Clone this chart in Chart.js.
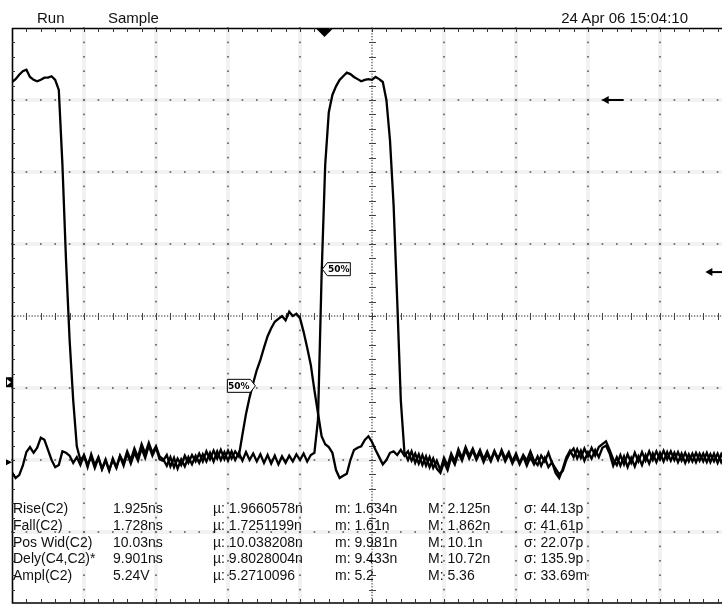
<!DOCTYPE html>
<html>
<head>
<meta charset="utf-8">
<script src="https://cdn.jsdelivr.net/npm/chart.js@4.4.1/dist/chart.umd.min.js"></script>
<style>
  html, body { margin: 0; padding: 0; background: #fff; overflow: hidden; }
  #wrap { position: relative; width: 722px; height: 604px; overflow: hidden; }
  #scope { position: absolute; left: 0; top: 0; }
  .txt { position: absolute; font-family: "Liberation Sans", Arial, sans-serif; color: #111; white-space: pre; line-height: 15px; }
  .hdr { font-size: 15px; top: 10px; }
  .meas { font-size: 14px; }
</style>
</head>
<body>
<div id="wrap">
  <canvas id="scope" width="740" height="604"></canvas>
</div>
<script>
"use strict";

// scope sample interval, ns (10 ns/div, 1 V/div)
const sampleStepNs = 0.5;

// C2: the tall pulse (starts high, second pulse around 43 ns)
const c2Volts = [
  3.25, 3.29, 3.35, 3.40, 3.42, 3.32, 3.28, 3.26, 3.28, 3.31,
  3.31, 3.33, 3.28, 3.14, 2.11, 0.78, -0.33, -1.17, -1.81, -2.00,
  -1.94, -2.10, -1.92, -2.07, -1.96, -2.12, -1.99, -2.14, -2.00, -2.11,
  -1.95, -2.08, -1.91, -2.05, -1.90, -2.01, -1.84, -1.97, -1.80, -1.94,
  -1.83, -1.99, -2.01, -1.93, -2.09, -1.97, -2.12, -1.99, -2.09, -1.96,
  -2.06, -1.94, -2.04, -1.92, -2.02, -1.90, -2.02, -1.88, -2.00, -1.89,
  -2.01, -1.88, -2.00, -1.90, -2.01, -1.89, -2.00, -1.91, -2.02, -1.92,
  -2.04, -1.93, -2.05, -1.94, -2.06, -1.95, -2.04, -1.94, -2.02, -1.92,
  -2.00, -1.91, -2.02, -1.93, -1.90, -1.44, 0.57, 2.10, 2.83, 3.07,
  3.19, 3.28, 3.33, 3.38, 3.36, 3.32, 3.29, 3.26, 3.28, 3.29,
  3.28, 3.32, 3.29, 3.25, 3.00, 2.44, 1.54, 0.22, -1.17, -1.89,
  -2.00, -1.88, -2.04, -1.92, -2.07, -1.95, -2.10, -1.98, -2.12, -2.18,
  -2.03, -2.14, -1.96, -2.06, -1.90, -2.01, -1.86, -1.98, -1.87, -2.00,
  -1.90, -2.03, -1.92, -2.02, -1.89, -2.00, -1.86, -1.98, -1.89, -2.02,
  -1.91, -2.04, -1.93, -2.01, -1.88, -2.01, -2.07, -1.94, -2.02, -1.90,
  -2.04, -2.12, -2.20, -2.15, -2.00, -1.90, -1.84, -1.98, -1.87, -2.01,
  -1.89, -1.98, -1.86, -1.96, -1.83, -1.80, -1.91, -2.08, -1.96, -2.08,
  -1.95, -2.10, -1.97, -2.09, -1.95, -2.07, -1.93, -2.05, -1.91, -2.03,
  -1.90, -2.02, -1.89, -2.01, -1.90, -2.03, -1.91, -2.04, -1.92, -2.02,
  -1.90, -2.01, -1.91, -2.03, -1.92, -2.02, -1.91, -2.03, -1.93, -2.02,
  -1.94,
];

// C4: the smaller pulse around 33 ns
const c4Volts = [
  -2.17, -2.25, -2.21, -2.08, -1.89, -1.82, -1.90, -1.83, -1.69, -1.72,
  -1.86, -2.00, -2.10, -2.07, -1.88, -1.90, -1.94, -2.04, -1.96, -2.07,
  -1.93, -2.06, -1.96, -2.11, -1.97, -2.13, -2.01, -2.15, -1.98, -2.10,
  -1.94, -2.04, -1.88, -2.00, -1.84, -1.96, -1.78, -1.91, -1.76, -1.90,
  -1.81, -1.95, -1.99, -2.08, -1.96, -2.10, -1.98, -2.07, -1.94, -2.04,
  -1.93, -2.02, -1.91, -2.02, -1.88, -1.99, -1.87, -1.98, -1.86, -1.99,
  -1.87, -1.98, -1.88, -1.95, -1.65, -1.36, -1.13, -0.93, -0.75, -0.61,
  -0.44, -0.28, -0.17, -0.08, -0.04, 0.00, -0.06, 0.06, 0.00, 0.03,
  -0.03, -0.22, -0.44, -0.68, -1.03, -1.35, -1.67, -1.78, -1.82, -1.90,
  -2.14, -2.25, -2.22, -2.19, -2.00, -1.86, -1.83, -1.81, -1.72, -1.67,
  -1.75, -1.86, -1.96, -2.06, -2.00, -1.90, -1.88, -1.93, -1.86, -1.94,
  -1.88, -2.01, -1.91, -2.05, -1.93, -2.08, -1.96, -2.11, -2.01, -2.14,
  -1.97, -2.08, -1.91, -2.02, -1.85, -1.97, -1.82, -1.94, -1.84, -1.97,
  -1.86, -1.99, -1.88, -2.00, -1.87, -1.98, -1.89, -2.02, -1.92, -2.05,
  -1.94, -2.06, -1.95, -2.08, -1.96, -2.06, -1.95, -2.08, -1.97, -2.10,
  -2.03, -2.18, -2.25, -2.12, -1.96, -1.87, -1.96, -1.85, -1.97, -1.84,
  -1.95, -1.83, -1.94, -1.82, -1.78, -1.74, -1.86, -1.99, -2.07, -1.93,
  -2.06, -1.92, -2.04, -1.90, -2.02, -1.89, -2.01, -1.88, -2.00, -1.88,
  -1.99, -1.87, -1.99, -1.88, -2.00, -1.89, -2.01, -1.90, -2.02, -1.91,
  -2.03, -1.91, -2.02, -1.90, -2.03, -1.91, -2.04, -1.92, -2.03, -1.93,
  -2.00,
];

// markers on screen (ns, V)
const triggerNs = 43.4;
const flagNs = [43.1, 33.8];
const flagVolts = [0.65, -0.97];
const flagPointsLeft = [true, false];
const arrowNs = [81.9, 96.3];
const arrowVolts = [3.0, 0.61];
const groundVolts = [-0.92, -2.03];

// header and measurement readout
const headerLabels = ["Run", "Sample", "24 Apr 06 15:04:10"];
const measNames = ["Rise(C2)", "Fall(C2)", "Pos Wid(C2)", "Dely(C4,C2)*", "Ampl(C2)"];
const measValues = ["1.925ns", "1.728ns", "10.03ns", "9.901ns", "5.24V"];
const measMean = ["µ: 1.9660578n", "µ: 1.7251199n", "µ: 10.038208n", "µ: 9.8028004n", "µ: 5.2710096"];
const measMin = ["m: 1.634n", "m: 1.61n", "m: 9.981n", "m: 9.433n", "m: 5.2"];
const measMax = ["M: 2.125n", "M: 1.862n", "M: 10.1n", "M: 10.72n", "M: 5.36"];
const measSigma = ["σ: 44.13p", "σ: 41.61p", "σ: 22.07p", "σ: 135.9p", "σ: 33.69m"];

const main = () => {
  const wrap = document.getElementById("wrap");
  const canvas = document.getElementById("scope");
  if (!(canvas instanceof HTMLCanvasElement)) throw new Error();

  /** @type {(cls: string, text: string, css: string) => void} */
  const addText = (cls, text, css) => {
    const el = document.createElement("div");
    el.className = "txt " + cls;
    el.textContent = text;
    el.style.cssText = css;
    wrap.appendChild(el);
  };

  addText("hdr", headerLabels[0], "left:37px;");
  addText("hdr", headerLabels[1], "left:108px;");
  addText("hdr", headerLabels[2], "right:34px;");

  const columns = [measNames, measValues, measMean, measMin, measMax, measSigma];
  const columnLeft = [13, 113, 213, 335, 428, 524];
  measNames.forEach((_, row) => {
    columns.forEach((col, c) => {
      const top = 501 + row * 16.8;
      addText("meas", col[row], `left:${columnLeft[c]}px;top:${top}px;`);
    });
  });

  const dot = (ctx, x, y, s) => ctx.fillRect(x - s / 2, y - s / 2, s, s);

  const scopeGrid = {
    id: "scopeGrid",
    beforeDatasetsDraw(chart) {
      const { ctx, chartArea: a, scales } = chart;
      const px = (t) => scales.x.getPixelForValue(t);
      const py = (v) => scales.y.getPixelForValue(v);
      ctx.save();

      // faint halo along the graticule
      ctx.strokeStyle = "rgba(0,0,0,0.05)";
      ctx.lineWidth = 4;
      for (let k = 1; k < 10; k++) {
        if (k === 5) continue;
        ctx.beginPath();
        ctx.moveTo(px(k * 10), a.top);
        ctx.lineTo(px(k * 10), a.bottom);
        ctx.stroke();
      }
      for (let k = -3; k <= 3; k++) {
        if (k === 0) continue;
        ctx.beginPath();
        ctx.moveTo(a.left, py(k));
        ctx.lineTo(a.right, py(k));
        ctx.stroke();
      }

      // dotted graticule
      ctx.fillStyle = "#666";
      for (let k = 1; k < 10; k++) {
        if (k === 5) continue;
        for (let m = -20; m <= 20; m++) dot(ctx, px(k * 10), py(m * 0.2), 1.7);
      }
      for (let k = -3; k <= 3; k++) {
        if (k === 0) continue;
        for (let m = 0; m <= 50; m++) dot(ctx, px(m * 2), py(k), 1.7);
      }

      // centre cross with fine dots and minor ticks
      ctx.fillStyle = "#555";
      for (let m = 0; m <= 250; m++) dot(ctx, px(m * 0.4), py(0), 1.3);
      for (let m = -100; m <= 100; m++) dot(ctx, px(50), py(m * 0.04), 1.3);
      ctx.strokeStyle = "#444";
      ctx.lineWidth = 1;
      for (let m = 0; m <= 50; m++) {
        const x = Math.round(px(m * 2)) + 0.5;
        ctx.beginPath();
        ctx.moveTo(x, py(0) - 3);
        ctx.lineTo(x, py(0) + 4);
        ctx.stroke();
      }
      for (let m = -20; m <= 20; m++) {
        const y = Math.round(py(m * 0.2)) + 0.5;
        ctx.beginPath();
        ctx.moveTo(px(50) - 3, y);
        ctx.lineTo(px(50) + 4, y);
        ctx.stroke();
      }

      // frame with edge ticks
      ctx.strokeStyle = "#000";
      ctx.lineWidth = 1.6;
      ctx.beginPath();
      ctx.moveTo(a.right, a.top + 0.5);
      ctx.lineTo(a.left + 0.5, a.top + 0.5);
      ctx.lineTo(a.left + 0.5, a.bottom - 1);
      ctx.lineTo(a.right, a.bottom - 1);
      ctx.stroke();
      ctx.lineWidth = 1;
      ctx.strokeStyle = "#333";
      for (let m = 1; m < 50; m++) {
        const x = Math.round(px(m * 2)) + 0.5;
        ctx.beginPath();
        ctx.moveTo(x, a.top);
        ctx.lineTo(x, a.top + 4);
        ctx.moveTo(x, a.bottom - 1);
        ctx.lineTo(x, a.bottom - 5);
        ctx.stroke();
      }
      for (let m = -19; m < 20; m++) {
        const y = Math.round(py(m * 0.2)) + 0.5;
        ctx.beginPath();
        ctx.moveTo(a.left, y);
        ctx.lineTo(a.left + 3, y);
        ctx.stroke();
      }
      ctx.restore();
    },
  };

  const scopeMarkers = {
    id: "scopeMarkers",
    afterDatasetsDraw(chart) {
      const { ctx, chartArea: a, scales } = chart;
      const px = (t) => scales.x.getPixelForValue(t);
      const py = (v) => scales.y.getPixelForValue(v);
      ctx.save();

      // trigger position
      const tx = px(triggerNs);
      ctx.fillStyle = "#000";
      ctx.beginPath();
      ctx.moveTo(tx - 8, a.top + 1);
      ctx.lineTo(tx + 8, a.top + 1);
      ctx.lineTo(tx, a.top + 9);
      ctx.closePath();
      ctx.fill();

      // 50% flags
      ctx.font = "bold 9px 'DejaVu Sans', sans-serif";
      ctx.textBaseline = "middle";
      ctx.textAlign = "center";
      flagNs.forEach((t, i) => {
        const x = px(t);
        const y = py(flagVolts[i]);
        const w = 28;
        const h = 13;
        const dir = flagPointsLeft[i] ? 1 : -1;
        ctx.beginPath();
        ctx.moveTo(x, y);
        ctx.lineTo(x + dir * 5, y - h / 2);
        ctx.lineTo(x + dir * w, y - h / 2);
        ctx.lineTo(x + dir * w, y + h / 2);
        ctx.lineTo(x + dir * 5, y + h / 2);
        ctx.closePath();
        ctx.fillStyle = "#fff";
        ctx.fill();
        ctx.strokeStyle = "#000";
        ctx.lineWidth = 1;
        ctx.stroke();
        ctx.fillStyle = "#000";
        ctx.fillText("50%", x + dir * (w + 5) / 2, y + 0.5);
      });

      // level arrows
      ctx.strokeStyle = "#000";
      ctx.fillStyle = "#000";
      ctx.lineWidth = 2;
      arrowNs.forEach((t, i) => {
        const x = px(t);
        const y = py(arrowVolts[i]);
        ctx.beginPath();
        ctx.moveTo(x + 4, y);
        ctx.lineTo(x + 22, y);
        ctx.stroke();
        ctx.beginPath();
        ctx.moveTo(x, y);
        ctx.lineTo(x + 7, y - 4);
        ctx.lineTo(x + 7, y + 4);
        ctx.closePath();
        ctx.fill();
      });

      // ground markers at the left edge
      const g0 = py(groundVolts[0]);
      ctx.lineWidth = 1;
      ctx.fillStyle = "#000";
      ctx.fillRect(a.left - 6, g0 - 5, 6, 10);
      ctx.fillStyle = "#fff";
      ctx.beginPath();
      ctx.moveTo(a.left - 5, g0 - 3);
      ctx.lineTo(a.left - 1, g0);
      ctx.lineTo(a.left - 5, g0 + 3);
      ctx.closePath();
      ctx.fill();
      const g1 = py(groundVolts[1]);
      ctx.fillStyle = "#000";
      ctx.beginPath();
      ctx.moveTo(a.left - 6, g1 - 3);
      ctx.lineTo(a.left, g1);
      ctx.lineTo(a.left - 6, g1 + 3);
      ctx.closePath();
      ctx.fill();
      ctx.restore();
    },
  };

  const toPoints = (volts) => volts.map((v, i) => ({ x: i * sampleStepNs, y: v }));

  new Chart(canvas, {
    type: "line",
    data: {
      datasets: [
        { label: "C2", data: toPoints(c2Volts) },
        { label: "C4", data: toPoints(c4Volts) },
      ],
    },
    options: {
      responsive: false,
      animation: false,
      devicePixelRatio: 1,
      layout: { padding: { left: 12, top: 28, right: 8, bottom: 0 } },
      elements: {
        point: { radius: 0 },
        line: { borderColor: "#000", borderWidth: 2.3, tension: 0 },
      },
      scales: {
        x: { type: "linear", min: 0, max: 100, display: false },
        y: { type: "linear", min: -4, max: 4, display: false },
      },
      plugins: { legend: { display: false }, tooltip: { enabled: false } },
    },
    plugins: [scopeGrid, scopeMarkers],
  });
};

main();
</script>
</body>
</html>
